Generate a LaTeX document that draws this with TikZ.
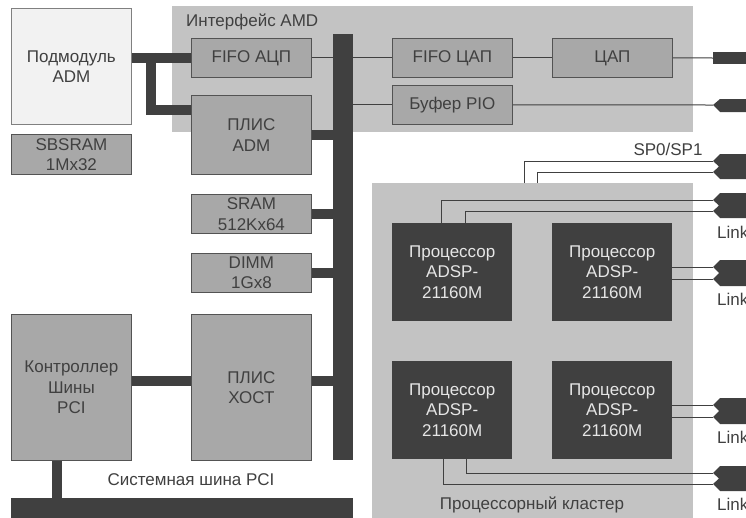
\documentclass[tikz,border=0pt]{standalone}
\usepackage{fontspec}
\setmainfont{Liberation Sans}
\usetikzlibrary{calc}
\definecolor{dk}{HTML}{404040}
\definecolor{bgg}{HTML}{C3C3C3}
\definecolor{boxg}{HTML}{A8A8A8}
\definecolor{lite}{HTML}{F2F2F2}
\definecolor{txtl}{HTML}{E6E6E6}
\newcommand\DConn[2]{\fill[dk] ($(#1)+(7,-7)$) -- (#1) -- ($(#1)!.5!(#2)+(6,0)$) -- (#2) -- ($(#2)+(7,7)$) -- ($(#2)+(60,7)$) -- ($(#1)+(60,-7)$) -- cycle;}
\begin{document}
\begin{tikzpicture}[x=1pt,y=-1pt,
  every node/.style={font=\fontsize{17}{20.5}\selectfont, text=dk},
  region/.style={fill=bgg, draw=none, anchor=north west, inner sep=0},
  gbox/.style={fill=boxg, draw=dk!90, line width=0.8pt, anchor=north west, inner sep=0, minimum width=120, align=center},
  pbox/.style={fill=dk, draw=none, anchor=north west, inner sep=0, minimum width=120, minimum height=98, align=center, text=txtl},
  barbox/.style={fill=dk, draw=none, anchor=north west, inner sep=0},
  thickw/.style={draw=dk, line width=10pt},
  thinw/.style={draw=dk, line width=1pt},
  lbl/.style={inner sep=0}
]
\useasboundingbox (0,0) rectangle (746,517);
\clip (0,0) rectangle (746,517);
\fill[white] (0,0) rectangle (746,517);
% regions
\node[region, minimum width=521, minimum height=126] (amd) at (172,6) {};
\node[region, minimum width=321, minimum height=340] (cluster) at (372,183) {};
\node[lbl, anchor=base west] (amdlbl) at (186,26) {Интерфейс AMD};
\node[lbl, anchor=base] (cllbl) at (532,509) {Процессорный кластер};
% buses
\node[barbox, minimum width=20, minimum height=426] (bus) at (333,34) {};
\node[barbox, minimum width=342, minimum height=30] (pcibus) at (11,498) {};
\node[lbl, anchor=base] (pcilbl) at (191,485) {Системная шина PCI};
% boxes
\node[gbox, fill=lite, draw=gray, minimum height=116] (sub) at (11,8) {Подмодуль\\ADM};
\node[gbox, minimum height=40] (sbs) at (11,134) {SBSRAM\\1Mx32};
\node[gbox, minimum height=39] (fadc) at (191,38) {FIFO АЦП};
\node[gbox, minimum height=79] (pladm) at (191,95) {ПЛИС\\ADM};
\node[gbox, minimum height=39] (fdac) at (392,38) {FIFO ЦАП};
\node[gbox, minimum height=39] (dac) at (552,38) {ЦАП};
\node[gbox, minimum height=39] (pio) at (392,85) {Буфер PIO};
\node[gbox, minimum height=39] (sram) at (191,194) {SRAM\\512Kx64};
\node[gbox, minimum height=39] (dimm) at (191,253) {DIMM\\1Gx8};
\node[gbox, minimum height=146] (ctrl) at (11,314) {Контроллер\\Шины\\PCI};
\node[gbox, minimum height=146] (host) at (191,314) {ПЛИС\\ХОСТ};
\node[pbox] (p1) at (392,223) {Процессор\\ADSP-\\21160M};
\node[pbox] (p2) at (552,223) {Процессор\\ADSP-\\21160M};
\node[pbox] (p3) at (392,361) {Процессор\\ADSP-\\21160M};
\node[pbox] (p4) at (552,361) {Процессор\\ADSP-\\21160M};
% thick connections
\coordinate (hostc) at ($(host.east)+(0,-6)$);
\draw[thickw] (sub.east |- fadc.west) -- (fadc.west);
\draw[thickw] ($(sub.east |- fadc.west)+(19,-5)$) |- ($(pladm.north west)+(0,15)$);
\draw[thickw] (pladm.east) -- (bus.west |- pladm.east);
\draw[thickw] (sram.east) -- (bus.west |- sram.east);
\draw[thickw] (dimm.east) -- (bus.west |- dimm.east);
\draw[thickw] (hostc) -- (bus.west |- hostc);
\draw[thickw] (ctrl.east |- hostc) -- (host.west |- hostc);
\draw[thickw] ($(ctrl.south)+(-14,0)$) -- ++(0,40);
% connector ends
\coordinate (cdac) at (713,58);
\coordinate (cpio) at (713,105);
\coordinate (sa) at (713,161);
\coordinate (sb) at (713,172);
\coordinate (la) at (713,200);
\coordinate (lb) at (713,211);
\coordinate (lc) at (713,267);
\coordinate (ld) at (713,279);
\coordinate (le) at (713,405);
\coordinate (lf) at (713,417);
\coordinate (lg) at (713,473);
\coordinate (lh) at (713,484);
% thin lines
\draw[thinw] (fadc.east) -- (bus.west |- fadc.east);
\draw[thinw] (bus.east |- fdac.west) -- (fdac.west);
\draw[thinw] (fdac.east) -- (dac.west);
\draw[thinw] (dac.east) -- (cdac);
\draw[thinw] (bus.east |- pio.west) -- (pio.west);
\draw[thinw] (pio.east) -- (cpio);
\draw[thinw] (cluster.north west) ++(152,0) |- (sa);
\draw[thinw] (cluster.north west) ++(165,0) |- (sb);
\draw[thinw] (p1.north west) ++(49,0) |- (la);
\draw[thinw] (p1.north west) ++(73,0) |- (lb);
\draw[thinw] (p2.north east |- lc) -- (lc);
\draw[thinw] (p2.north east |- ld) -- (ld);
\draw[thinw] (p4.north east |- le) -- (le);
\draw[thinw] (p4.north east |- lf) -- (lf);
\draw[thinw] (p3.south west) ++(74,0) |- (lg);
\draw[thinw] (p3.south west) ++(51,0) |- (lh);
% connector shapes
\fill[dk] (cdac) ++(0,-6) rectangle ++(60,12);
\fill[dk] (cpio) -- ++(7,-6) -- ++(60,0) -- ++(0,13) -- ++(-60,0) -- cycle;
\DConn{sa}{sb}
\DConn{la}{lb}
\DConn{lc}{ld}
\DConn{le}{lf}
\DConn{lg}{lh}
% labels
\node[lbl, anchor=base] (splbl) at (668,155) {SP0/SP1};
\node[lbl, anchor=base west] (lk1) at (717,238) {Link};
\node[lbl, anchor=base west] (lk2) at (717,305) {Link};
\node[lbl, anchor=base west] (lk3) at (717,443) {Link};
\node[lbl, anchor=base west] (lk4) at (717,510) {Link};
\end{tikzpicture}
\end{document}
